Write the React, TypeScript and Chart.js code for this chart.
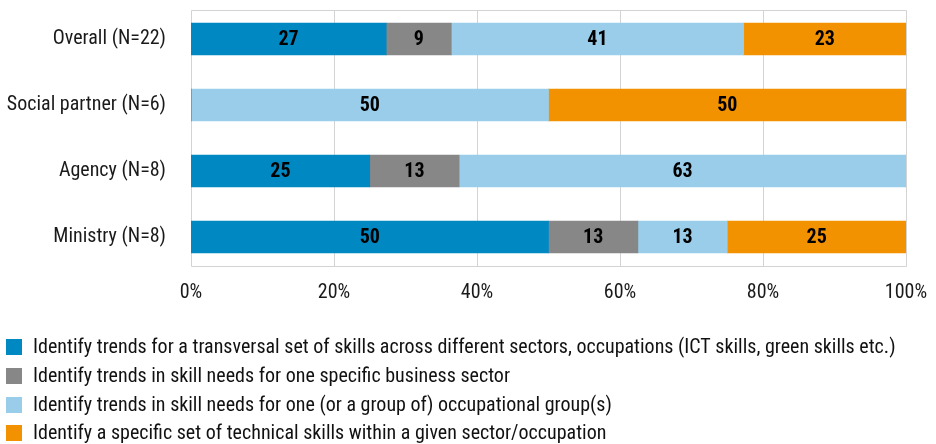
import React, { useEffect, useRef } from "react";
import { Chart, registerables } from "chart.js";

Chart.register(...registerables);

const categories = ["Overall (N=22)", "Social partner (N=6)", "Agency (N=8)", "Ministry (N=8)"];
const seriesLabels = [
  "Identify trends for a transversal set of skills across different sectors, occupations (ICT skills, green skills etc.)",
  "Identify trends in skill needs for one specific business sector",
  "Identify trends in skill needs for one (or a group of) occupational group(s)",
  "Identify a specific set of technical skills within a given sector/occupation",
];
const transversal = [27.3, 0, 25, 50];
const businessSector = [9.1, 0, 12.5, 12.5];
const occupational = [40.9, 50, 62.5, 12.5];
const technical = [22.7, 50, 0, 25];
const xTicks = [0, 20, 40, 60, 80, 100];

const colors = ["#0088c2", "#878787", "#99cde9", "#f39200"];

function pickFont(): { family: string; size: number } {
  const c = document.createElement("canvas").getContext("2d") as CanvasRenderingContext2D;
  const test = "Overall (N=22) Identify trends";
  const candidates = ["Liberation Sans Narrow", "Arial Narrow", "Roboto Condensed", "DejaVu Sans Condensed", "Liberation Sans"];
  let fam = "sans-serif";
  for (const f of candidates) {
    c.font = `40px "${f}", monospace`;
    const a = c.measureText(test).width;
    c.font = `40px "${f}", serif`;
    const b = c.measureText(test).width;
    if (Math.abs(a - b) < 0.01) {
      fam = `"${f}", sans-serif`;
      break;
    }
  }
  c.font = `21px ${fam}`;
  const w = c.measureText("Overall (N=22)").width;
  let size = 21 * (114 / w);
  size = Math.min(21, Math.max(15, size));
  return { family: fam, size: Math.round(size * 2) / 2 };
}

export default function App() {
  const ref = useRef<HTMLCanvasElement>(null);
  useEffect(() => {
    document.body.style.margin = "0";
    const { family: FONT, size: FS } = pickFont();

    const gridPlugin = {
      id: "gridBox",
      beforeDatasetsDraw(chart: any) {
        const { ctx, chartArea, scales } = chart;
        const top = Math.floor(chartArea.top + 4) + 0.5;
        const bottom = Math.floor(chartArea.bottom - 4) + 0.5;
        ctx.save();
        ctx.strokeStyle = "#d3d3d3";
        ctx.lineWidth = 1;
        ctx.beginPath();
        xTicks.forEach((v) => {
          const px = Math.floor(scales.x.getPixelForValue(v)) + 0.5;
          ctx.moveTo(px, top);
          ctx.lineTo(px, bottom);
        });
        const l = Math.floor(scales.x.getPixelForValue(0)) + 0.5;
        const r = Math.floor(scales.x.getPixelForValue(100)) + 0.5;
        ctx.moveTo(l, top);
        ctx.lineTo(r, top);
        ctx.moveTo(l, bottom);
        ctx.lineTo(r, bottom);
        ctx.stroke();
        ctx.restore();
      },
    };

    const labelPlugin = {
      id: "barLabels",
      afterDatasetsDraw(chart: any) {
        const { ctx } = chart;
        ctx.save();
        ctx.font = `bold ${FS}px ${FONT}`;
        ctx.fillStyle = "#000";
        ctx.textAlign = "center";
        ctx.textBaseline = "middle";
        chart.data.datasets.forEach((ds: any, di: number) => {
          const meta = chart.getDatasetMeta(di);
          meta.data.forEach((bar: any, i: number) => {
            const v = ds.data[i];
            if (!v) return;
            const c = bar.getCenterPoint();
            ctx.fillText(String(Math.round(v)), c.x, c.y + 1);
          });
        });
        ctx.restore();
      },
    };

    const legendPlugin = {
      id: "stackLegend",
      afterDraw(chart: any) {
        const { ctx } = chart;
        ctx.save();
        ctx.font = `${FS}px ${FONT}`;
        ctx.textAlign = "left";
        ctx.textBaseline = "middle";
        chart.data.datasets.forEach((ds: any, i: number) => {
          const cy = 347 + i * 28.8;
          ctx.fillStyle = ds.backgroundColor;
          ctx.fillRect(6, Math.round(cy - 8), 16, 16);
          ctx.fillStyle = "#111";
          ctx.fillText(ds.label, 33, cy + 1);
        });
        ctx.restore();
      },
    };

    const chart = new Chart(ref.current as HTMLCanvasElement, {
      type: "bar",
      data: {
        labels: categories,
        datasets: [transversal, businessSector, occupational, technical].map((d, i) => ({
          label: seriesLabels[i],
          data: d,
          backgroundColor: colors[i],
          borderWidth: 0,
          barThickness: 32,
        })),
      },
      options: {
        indexAxis: "y",
        animation: false,
        responsive: false,
        maintainAspectRatio: false,
        layout: { padding: { top: 6, bottom: 134, right: 30, left: 0 } },
        plugins: { legend: { display: false }, tooltip: { enabled: false } },
        scales: {
          x: {
            stacked: true,
            min: 0,
            max: 100,
            afterBuildTicks: (s: any) => {
              s.ticks = xTicks.map((v) => ({ value: v }));
            },
            afterFit: (s: any) => {
              s.height = 40;
              s.paddingLeft = 0;
              s.paddingRight = 0;
            },
            grid: { display: false, drawTicks: false },
            border: { display: false },
            ticks: {
              padding: 11,
              color: "#1a1a1a",
              font: { family: FONT, size: FS },
              callback: (v: any) => `${v}%`,
            },
          },
          y: {
            stacked: true,
            afterFit: (s: any) => {
              s.width = 191;
              s.paddingTop = 0;
              s.paddingBottom = 0;
            },
            grid: { display: false, drawTicks: false },
            border: { display: false },
            ticks: {
              padding: 25,
              color: "#1a1a1a",
              font: { family: FONT, size: FS },
            },
          },
        },
      },
      plugins: [gridPlugin, labelPlugin, legendPlugin],
    });
    return () => chart.destroy();
  }, []);
  return (
    <div style={{ position: "absolute", left: 0, top: 0, width: 936, height: 444 }}>
      <canvas ref={ref} width={936} height={444} style={{ width: 936, height: 444 }} />
    </div>
  );
}
